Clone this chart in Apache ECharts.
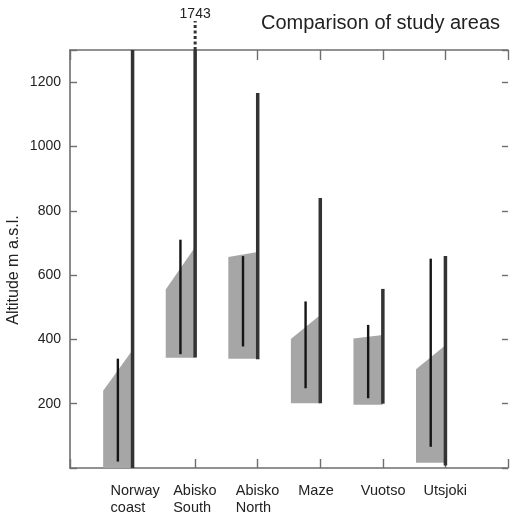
<!DOCTYPE html>
<html>
<head>
<meta charset="utf-8">
<script src="https://cdn.jsdelivr.net/npm/echarts@6/dist/echarts.min.js"></script>
<style>
  html, body { margin: 0; padding: 0; background: #fff; }
  #chart { width: 511px; height: 516px; }
</style>
</head>
<body>
<div id="chart"></div>
<script>
// Study areas along the x axis
const areas = ['Norway\ncoast', 'Abisko\nSouth', 'Abisko\nNorth', 'Maze', 'Vuotso', 'Utsjoki'];

// Shaded band: base altitude, top at the left edge, top at the right edge (m a.s.l.)
const bandBottom   = [0,   343, 340, 201, 197, 16];
const bandLeftTop  = [240, 555, 656, 401, 403, 307];
const bandRightTop = [367, 687, 672, 476, 414, 382];

// Thin bar: altitude range (m a.s.l.)
const thinMin = [20,  354, 378, 248, 217, 66];
const thinMax = [340, 710, 659, 518, 445, 651];

// Thick bar: altitude range (m a.s.l.)
const thickMin = [0,    344, 338,  201, 200, 8];
const thickMax = [1300, 1743, 1166, 840, 557, 659];

// Y axis tick labels
const yTickLabels = [200, 400, 600, 800, 1000, 1200];

const Y_MAX = 1300;
const BAND_W = 0.47;     // width of the shaded band, in category units
const THIN_OFF = 0.235;  // offset of the thin bar from the thick bar

const FONT = "'Liberation Sans', Arial, Helvetica, sans-serif";
const AXIS_COLOR = '#6e6e6e';

const rows = areas.map((name, i) => [
  i + 1, bandBottom[i], bandLeftTop[i], bandRightTop[i],
  thinMin[i], thinMax[i], thickMin[i], thickMax[i]
]);

function renderItem(params, api) {
  const x = api.value(0);
  const pt = (xv, yv) => api.coord([xv, Math.min(yv, Y_MAX)]);
  const xl = x - BAND_W;
  const xt = x - THIN_OFF;
  const seg = (xv, y1, y2) => { const a = pt(xv, y1), b = pt(xv, y2); return { x1: a[0], y1: a[1], x2: b[0], y2: b[1] }; };
  const children = [
    {
      type: 'polygon',
      shape: { points: [pt(xl, api.value(1)), pt(xl, api.value(2)), pt(x, api.value(3)), pt(x, api.value(1))] },
      style: { fill: '#a6a6a6' }
    },
    { type: 'line', shape: seg(xt, api.value(4), api.value(5)), style: { stroke: '#151515', lineWidth: 2.4 } },
    { type: 'line', shape: seg(x, api.value(6), api.value(7)), style: { stroke: '#333333', lineWidth: 3.5 } }
  ];
  const top = api.value(7);
  if (top > Y_MAX) {
    // value above the axis range: dotted continuation and the value written above
    const p = pt(x, Y_MAX);
    children.push({
      type: 'line',
      shape: { x1: p[0], y1: p[1], x2: p[0], y2: p[1] - 29 },
      style: { stroke: '#333333', lineWidth: 3, lineDash: [3, 2.5] }
    });
    children.push({
      type: 'text',
      style: {
        x: p[0], y: p[1] - 36, text: String(top),
        textAlign: 'center', textVerticalAlign: 'middle',
        font: '14px ' + FONT, fill: '#222'
      }
    });
  }
  return { type: 'group', children };
}

const chart = echarts.init(document.getElementById('chart'), null, { renderer: 'canvas' });

const frameLine = { show: true, onZero: false, lineStyle: { color: AXIS_COLOR, width: 1.6 } };

chart.setOption({
  animation: false,
  backgroundColor: '#fff',
  title: {
    text: 'Comparison of study areas',
    left: 256, top: 8,
    textStyle: { fontFamily: FONT, fontSize: 20, fontWeight: 'normal', color: '#222' }
  },
  grid: { left: 70, top: 50, width: 441, height: 418, containLabel: false },
  xAxis: [
    {
      type: 'value', position: 'bottom', min: 0, max: 7, interval: 1,
      axisLine: frameLine,
      axisTick: { show: true, inside: true, length: 9, lineStyle: { color: AXIS_COLOR, width: 1.4 } },
      splitLine: { show: false },
      axisLabel: {
        show: true, margin: 14, align: 'left', padding: [0, 0, 0, -22],
        fontFamily: FONT, fontSize: 14.5, lineHeight: 17, color: '#222',
        formatter: v => (v >= 1 && v <= areas.length ? areas[v - 1] : '')
      }
    },
    {
      type: 'value', position: 'top', min: 0, max: 7, interval: 1,
      axisLine: frameLine,
      axisTick: { show: true, inside: true, length: 10, lineStyle: { color: AXIS_COLOR, width: 1.4 } },
      splitLine: { show: false },
      axisLabel: { show: false }
    }
  ],
  yAxis: [
    {
      type: 'value', position: 'left', min: 0, max: Y_MAX, interval: 200,
      axisLine: frameLine,
      axisTick: { show: true, inside: true, length: 7, lineStyle: { color: AXIS_COLOR, width: 1.4 } },
      splitLine: { show: false },
      axisLabel: {
        show: true, margin: 9, fontFamily: FONT, fontSize: 14, color: '#222',
        formatter: v => (yTickLabels.includes(v) ? String(v) : '')
      }
    },
    {
      type: 'value', position: 'right', min: 0, max: Y_MAX, interval: 200,
      axisLine: { show: false, onZero: false },
      axisTick: { show: true, inside: true, length: 6, lineStyle: { color: AXIS_COLOR, width: 1.4 } },
      splitLine: { show: false },
      axisLabel: { show: false }
    }
  ],
  graphic: [
    {
      type: 'text', x: 14, y: 270, rotation: Math.PI / 2,
      style: {
        text: 'Altitude m a.s.l.', textAlign: 'center', textVerticalAlign: 'middle',
        font: '16px ' + FONT, fill: '#222'
      }
    }
  ],
  series: [
    {
      type: 'custom', xAxisIndex: 0, yAxisIndex: 0, clip: false,
      renderItem, data: rows
    }
  ]
});
</script>
</body>
</html>
